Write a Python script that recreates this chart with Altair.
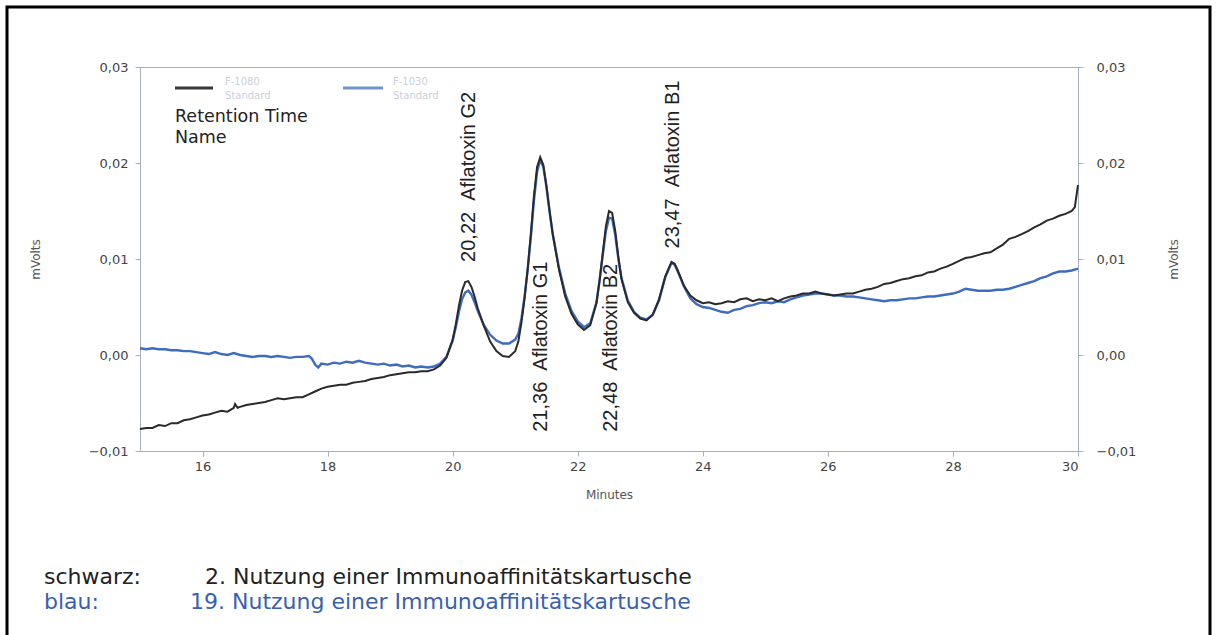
import altair as alt
import pandas as pd

# ---- data ----
black_min = [15.00, 15.10, 15.20, 15.30, 15.40, 15.50, 15.60, 15.70, 15.80, 15.90,
             16.00, 16.10, 16.20, 16.30, 16.40, 16.50, 16.52, 16.56, 16.60, 16.70, 16.80, 16.90,
             17.00, 17.10, 17.20, 17.30, 17.40, 17.50, 17.60, 17.70, 17.80, 17.90,
             18.00, 18.10, 18.20, 18.30, 18.40, 18.50, 18.60, 18.70, 18.80, 18.90,
             19.00, 19.10, 19.20, 19.30, 19.40, 19.50, 19.60, 19.70, 19.80, 19.90,
             20.00, 20.05, 20.10, 20.15, 20.20, 20.25, 20.30, 20.35, 20.40, 20.50,
             20.60, 20.70, 20.80, 20.90, 21.00, 21.05, 21.10, 21.15, 21.20, 21.25,
             21.30, 21.35, 21.40, 21.45, 21.50, 21.55, 21.60, 21.70, 21.80, 21.90,
             22.00, 22.10, 22.20, 22.30, 22.35, 22.40, 22.45, 22.50, 22.55, 22.60,
             22.65, 22.70, 22.80, 22.90, 23.00, 23.10, 23.20, 23.30, 23.40, 23.50,
             23.55, 23.60, 23.70, 23.80, 23.90, 24.00, 24.10, 24.20, 24.30, 24.40,
             24.50, 24.60, 24.70, 24.80, 24.90, 25.00, 25.10, 25.20, 25.30, 25.40,
             25.50, 25.60, 25.70, 25.80, 25.90, 26.00, 26.10, 26.20, 26.30, 26.40,
             26.50, 26.60, 26.70, 26.80, 26.90, 27.00, 27.10, 27.20, 27.30, 27.40,
             27.50, 27.60, 27.70, 27.80, 27.90, 28.00, 28.10, 28.20, 28.30, 28.40,
             28.50, 28.60, 28.70, 28.80, 28.90, 29.00, 29.10, 29.20, 29.30, 29.40,
             29.50, 29.60, 29.70, 29.80, 29.90, 29.95, 29.98, 30.00]
black_mv = [-0.0077, -0.0076, -0.0076, -0.0073, -0.0074, -0.0071, -0.0071, -0.0068, -0.0067, -0.0065,
            -0.0063, -0.0062, -0.0060, -0.0058, -0.0059, -0.0055, -0.0051, -0.0055, -0.0054, -0.0052, -0.0051, -0.0050,
            -0.0049, -0.0047, -0.0045, -0.0046, -0.0045, -0.0044, -0.0044, -0.0041, -0.0038, -0.0035,
            -0.0033, -0.0032, -0.0031, -0.0031, -0.0029, -0.0028, -0.0027, -0.0025, -0.0024, -0.0023,
            -0.0021, -0.0020, -0.0019, -0.0018, -0.0018, -0.0017, -0.0017, -0.0015, -0.0011, -0.0003,
            0.0016, 0.0032, 0.0051, 0.0067, 0.0076, 0.0077, 0.0071, 0.0061, 0.0049, 0.0030,
            0.0014, 0.0004, -0.0001, -0.0002, 0.0004, 0.0014, 0.0034, 0.0059, 0.0090, 0.0126,
            0.0166, 0.0196, 0.0206, 0.0198, 0.0176, 0.0150, 0.0126, 0.0089, 0.0061, 0.0043,
            0.0032, 0.0026, 0.0031, 0.0054, 0.0078, 0.0106, 0.0134, 0.0150, 0.0148, 0.0129,
            0.0102, 0.0079, 0.0055, 0.0044, 0.0038, 0.0036, 0.0042, 0.0058, 0.0082, 0.0097,
            0.0095, 0.0088, 0.0072, 0.0062, 0.0057, 0.0054, 0.0055, 0.0053, 0.0054, 0.0056,
            0.0055, 0.0058, 0.0059, 0.0056, 0.0058, 0.0057, 0.0059, 0.0056, 0.0059, 0.0061,
            0.0062, 0.0064, 0.0064, 0.0066, 0.0064, 0.0063, 0.0062, 0.0063, 0.0064, 0.0064,
            0.0066, 0.0068, 0.0069, 0.0071, 0.0074, 0.0075, 0.0077, 0.0079, 0.0080, 0.0082,
            0.0083, 0.0086, 0.0087, 0.0090, 0.0092, 0.0095, 0.0098, 0.0101, 0.0102, 0.0104,
            0.0106, 0.0107, 0.0111, 0.0115, 0.0121, 0.0123, 0.0126, 0.0129, 0.0133, 0.0136,
            0.0140, 0.0142, 0.0145, 0.0147, 0.0150, 0.0154, 0.0168, 0.0177]

blue_min = [15.00, 15.10, 15.20, 15.30, 15.40, 15.50, 15.60, 15.70, 15.80, 15.90,
            16.00, 16.10, 16.20, 16.30, 16.40, 16.50, 16.60, 16.70, 16.80, 16.90,
            17.00, 17.10, 17.20, 17.30, 17.40, 17.50, 17.60, 17.70, 17.75, 17.80, 17.85, 17.90,
            18.00, 18.10, 18.20, 18.30, 18.40, 18.50, 18.60, 18.70, 18.80, 18.90,
            19.00, 19.10, 19.20, 19.30, 19.40, 19.50, 19.60, 19.70, 19.80, 19.90,
            20.00, 20.05, 20.10, 20.15, 20.20, 20.25, 20.30, 20.35, 20.40, 20.50,
            20.60, 20.70, 20.80, 20.90, 21.00, 21.05, 21.10, 21.15, 21.20, 21.25,
            21.30, 21.35, 21.40, 21.45, 21.50, 21.55, 21.60, 21.70, 21.80, 21.90,
            22.00, 22.10, 22.20, 22.30, 22.35, 22.40, 22.45, 22.50, 22.55, 22.60,
            22.65, 22.70, 22.80, 22.90, 23.00, 23.10, 23.20, 23.30, 23.40, 23.50,
            23.55, 23.60, 23.70, 23.80, 23.90, 24.00, 24.10, 24.20, 24.30, 24.40,
            24.50, 24.60, 24.70, 24.80, 24.90, 25.00, 25.10, 25.20, 25.30, 25.40,
            25.50, 25.60, 25.70, 25.80, 25.90, 26.00, 26.10, 26.20, 26.30, 26.40,
            26.50, 26.60, 26.70, 26.80, 26.90, 27.00, 27.10, 27.20, 27.30, 27.40,
            27.50, 27.60, 27.70, 27.80, 27.90, 28.00, 28.10, 28.20, 28.30, 28.40,
            28.50, 28.60, 28.70, 28.80, 28.90, 29.00, 29.10, 29.20, 29.30, 29.40,
            29.50, 29.60, 29.70, 29.80, 29.90, 30.00]
blue_mv = [0.0007, 0.0006, 0.0007, 0.0006, 0.0006, 0.0005, 0.0005, 0.0004, 0.0004, 0.0003,
           0.0002, 0.0001, 0.0003, 0.0001, 0.0000, 0.0002, 0.0000, -0.0001, -0.0002, -0.0001,
           -0.0001, -0.0002, -0.0001, -0.0002, -0.0003, -0.0002, -0.0002, -0.0001, -0.0004, -0.0010, -0.0013, -0.0009,
           -0.0010, -0.0008, -0.0009, -0.0007, -0.0008, -0.0006, -0.0008, -0.0009, -0.0010, -0.0009,
           -0.0011, -0.0010, -0.0012, -0.0011, -0.0013, -0.0012, -0.0013, -0.0012, -0.0009, -0.0002,
           0.0015, 0.0029, 0.0045, 0.0058, 0.0065, 0.0067, 0.0063, 0.0055, 0.0046, 0.0031,
           0.0021, 0.0015, 0.0012, 0.0012, 0.0016, 0.0022, 0.0038, 0.0061, 0.0089, 0.0123,
           0.0161, 0.0191, 0.0203, 0.0196, 0.0175, 0.0149, 0.0126, 0.0091, 0.0064, 0.0046,
           0.0035, 0.0029, 0.0033, 0.0055, 0.0078, 0.0104, 0.0129, 0.0143, 0.0142, 0.0125,
           0.0100, 0.0080, 0.0057, 0.0045, 0.0039, 0.0037, 0.0042, 0.0057, 0.0081, 0.0096,
           0.0094, 0.0087, 0.0071, 0.0059, 0.0053, 0.0050, 0.0049, 0.0047, 0.0045, 0.0044,
           0.0047, 0.0048, 0.0051, 0.0052, 0.0054, 0.0055, 0.0054, 0.0056, 0.0055, 0.0058,
           0.0060, 0.0062, 0.0063, 0.0064, 0.0064, 0.0063, 0.0062, 0.0062, 0.0061, 0.0061,
           0.0060, 0.0059, 0.0058, 0.0057, 0.0056, 0.0057, 0.0057, 0.0058, 0.0059, 0.0059,
           0.0060, 0.0061, 0.0061, 0.0062, 0.0063, 0.0064, 0.0066, 0.0069, 0.0068, 0.0067,
           0.0067, 0.0067, 0.0068, 0.0068, 0.0069, 0.0071, 0.0073, 0.0075, 0.0077, 0.0080,
           0.0082, 0.0085, 0.0087, 0.0087, 0.0088, 0.0090]

peak_rt = [20.22, 21.36, 22.48, 23.47]
peak_name = ["Aflatoxin G2", "Aflatoxin G1", "Aflatoxin B2", "Aflatoxin B1"]
peak_label_base = [0.0097, -0.0080, -0.0080, 0.0111]

y_ticks = [-0.01, 0.0, 0.01, 0.02, 0.03]
x_ticks = [16, 18, 20, 22, 24, 26, 28, 30]

black_df = pd.DataFrame({"t": black_min, "v": black_mv})
blue_df = pd.DataFrame({"t": blue_min, "v": blue_mv})
peaks_df = pd.DataFrame({
    "t": peak_rt,
    "v": peak_label_base,
    "label": [f"{rt:.2f}".replace(".", ",") + "\u00a0\u00a0" + n for rt, n in zip(peak_rt, peak_name)],
})

W, H = 938, 384
FONT = "DejaVu Sans"
AX = "#a7aebd"
lab_expr = "replace(format(datum.value, '.2f'), '.', ',')"

xscale = alt.Scale(domain=[15, 30], nice=False, zero=False)
yscale = alt.Scale(domain=[-0.01, 0.03], nice=False, zero=False)


def x_axis():
    return alt.Axis(values=x_ticks, format="d", title="Minutes", tickSize=5, labelPadding=4,
                    titleY=43, titleBaseline="middle", titleFontSize=12)


blue_line = alt.Chart(blue_df).mark_line(color="#3d6cc0", strokeWidth=2.4).encode(
    x=alt.X("t:Q", scale=xscale, axis=x_axis()),
    y=alt.Y("v:Q", scale=yscale,
            axis=alt.Axis(orient="right", values=y_ticks, labelExpr=lab_expr, title="mVolts",
                          tickSize=5, labelPadding=13, titleAngle=270, titleX=95, titleY=H / 2,
                          titleAlign="center", titleBaseline="middle")),
)
black_line = alt.Chart(black_df).mark_line(color="#2a2a2a", strokeWidth=2.0).encode(
    x=alt.X("t:Q", scale=xscale, axis=x_axis()),
    y=alt.Y("v:Q", scale=yscale,
            axis=alt.Axis(orient="left", values=y_ticks, labelExpr=lab_expr, title="mVolts",
                          tickSize=5, labelPadding=7, titleAngle=270, titleX=-105, titleY=H / 2,
                          titleAlign="center", titleBaseline="middle")),
)

peak_text = alt.Chart(peaks_df).mark_text(angle=270, align="left", baseline="middle", dy=3,
                                          font="Liberation Sans", fontSize=20, color="#222").encode(
    x=alt.X("t:Q", scale=xscale, axis=x_axis()),
    y=alt.Y("v:Q", scale=yscale, axis=None),
    text="label:N",
)

one = alt.Data(values=[{}])


def txt(s, x, y, size, color="#222", align="left", font=FONT):
    return alt.Chart(one).mark_text(text=s, align=align, baseline="middle", font=font,
                                    fontSize=size, color=color).encode(
        x=alt.value(x), y=alt.value(y))


def seg(x1, x2, y, color):
    return alt.Chart(one).mark_rule(color=color, strokeWidth=3).encode(
        x=alt.value(x1), x2=alt.value(x2), y=alt.value(y))


legend_layers = [
    seg(35, 73, 21, "#3a3a3a"),
    seg(203, 243, 21, "#6f93cf"),
    txt("F-1080", 85, 15, 10, "#c9cfdb"),
    txt("Standard", 85, 29, 10, "#c9cfdb"),
    txt("F-1030", 253, 15, 10, "#c9cfdb"),
    txt("Standard", 253, 29, 10, "#c9cfdb"),
    txt("Retention Time", 35, 50, 17.5),
    txt("Name", 35, 71, 17.5),
]

caption_layers = [
    txt("schwarz:", -96, 510, 22, "#222"),
    txt("2. Nutzung einer Immunoaffinitätskartusche", 65, 510, 22, "#222"),
    txt("blau:", -96, 535, 22, "#3a5fb0"),
    txt("19. Nutzung einer Immunoaffinitätskartusche", 50, 535, 22, "#3a5fb0"),
]

frame = alt.Chart(one).mark_rect(fill="transparent", stroke="black", strokeWidth=3).encode(
    x=alt.value(-133), x2=alt.value(1070), y=alt.value(-60), y2=alt.value(572))

chart = alt.layer(
    blue_line, black_line, peak_text, *legend_layers, *caption_layers, frame
).resolve_scale(y="independent").properties(
    width=W, height=H,
    padding={"left": 140, "top": 67, "right": 139, "bottom": 184},
    autosize=alt.AutoSizeParams(type="none"),
    background="white",
).configure_view(stroke=AX, strokeWidth=1).configure_axis(
    domainColor=AX, tickColor=AX, labelColor="#444", labelFont=FONT, labelFontSize=13,
    titleFont=FONT, titleFontWeight="normal", titleColor="#555", titleFontSize=12, grid=False,
)

chart.save("out.html", embed_options={"renderer": "svg", "actions": False})
